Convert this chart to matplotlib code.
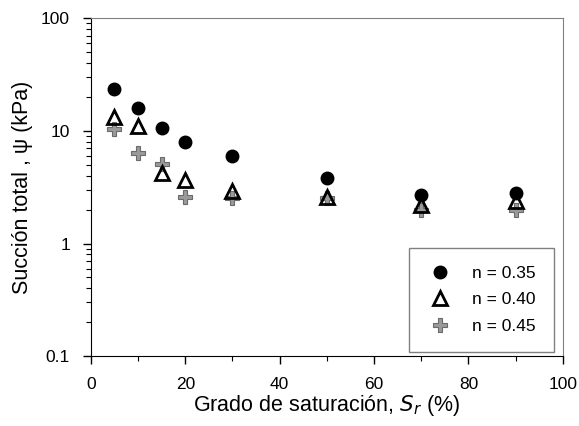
import matplotlib

matplotlib.use("Agg")
import matplotlib.pyplot as plt
from matplotlib.ticker import FixedLocator, LogLocator, NullFormatter

plt.rcParams["font.family"] = ["Liberation Sans", "DejaVu Sans"]

SR = [5, 10, 15, 20, 30, 50, 70, 90]
PSI_035 = [23.4, 15.9, 10.7, 7.9, 6.0, 3.8, 2.7, 2.8]
PSI_040 = [13.4, 11.1, 4.2, 3.7, 2.95, 2.57, 2.2, 2.38]
PSI_045 = [10.3, 6.4, 5.1, 2.6, 2.55, 2.55, 2.0, 2.0]
LABELS = ["n = 0.35", "n = 0.40", "n = 0.45"]
YTICKS = [0.1, 1, 10, 100]
YTICKLABELS = ["0.1", "1", "10", "100"]


def main() -> None:
    fig = plt.figure(figsize=(5.79, 4.26), dpi=100)
    ax = fig.add_axes([0.157, 0.164, 0.815, 0.793])

    h3, = ax.plot(SR, PSI_045, "P", ms=10.5, mfc="#9a9a9a", mec="#6a6a6a",
                  mew=0.8, ls="none", label=LABELS[2])
    h2, = ax.plot(SR, PSI_040, "^", ms=10, mfc="none", mec="black",
                  mew=2.0, ls="none", label=LABELS[1])
    h1, = ax.plot(SR, PSI_035, "o", ms=9, color="black", ls="none",
                  label=LABELS[0])

    ax.set_yscale("log")
    ax.set_ylim(0.1, 100)
    ax.set_xlim(0, 100)
    ax.set_yticks(YTICKS)
    ax.set_yticklabels(YTICKLABELS)
    ax.yaxis.set_minor_locator(LogLocator(base=10, subs=range(2, 10)))
    ax.yaxis.set_minor_formatter(NullFormatter())
    ax.set_xticks(range(0, 101, 20))
    ax.xaxis.set_minor_locator(FixedLocator(range(10, 100, 20)))

    ax.tick_params(which="major", direction="out", length=6, width=1,
                   labelsize=12.5, top=False, right=False)
    ax.tick_params(which="minor", direction="out", length=3.5, width=0.8,
                   top=False, right=False)
    ax.tick_params(axis="x", which="major", pad=9)
    ax.tick_params(axis="y", which="major", pad=9)

    for side in ("top", "right"):
        ax.spines[side].set_color("#808080")
    for side in ("left", "bottom"):
        ax.spines[side].set_color("black")

    ax.set_xlabel("Grado de saturación, $\\mathit{S_r}$ (%)", fontsize=15.5,
                  labelpad=1)
    ax.set_ylabel("Succión total , ψ (kPa)", fontsize=15.5, labelpad=6)

    leg = ax.legend([h1, h2, h3], LABELS, loc="lower right",
                    bbox_to_anchor=(0.981, 0.012), fontsize=12.5,
                    fancybox=False, framealpha=1, edgecolor="#808080",
                    borderpad=1.05, labelspacing=0.65, handlelength=1.5,
                    handletextpad=1.1, borderaxespad=0)
    leg.get_frame().set_linewidth(1.0)

    fig.savefig("out.png", dpi=100)


if __name__ == "__main__":
    main()
